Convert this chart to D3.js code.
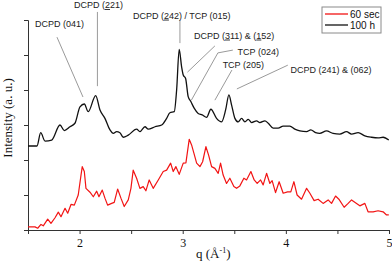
<!DOCTYPE html>
<html><head><meta charset="utf-8">
<script src="https://cdn.jsdelivr.net/npm/d3@7"></script>
<style>html,body{margin:0;padding:0;background:#fff;}svg{display:block;}</style>
</head><body><svg id="c" width="392" height="262"></svg>
<script>
// q values (Å^-1) and intensities (a.u.)
const blackQ = [1.500,1.587,1.623,1.665,1.730,1.810,1.852,1.907,1.955,2.004,2.046,2.084,2.156,2.198,2.246,2.295,2.327,2.359,2.391,2.423,2.472,2.553,2.585,2.634,2.666,2.731,2.796,2.844,2.876,2.918,2.941,2.966,2.989,3.005,3.028,3.053,3.079,3.111,3.150,3.189,3.232,3.273,3.328,3.377,3.416,3.448,3.474,3.506,3.538,3.571,3.603,3.635,3.668,3.716,3.748,3.797,3.829,3.877,3.925,3.974,4.039,4.087,4.136,4.201,4.242,4.288,4.329,4.394,4.458,4.523,4.588,4.637,4.701,4.766,4.830,4.894,4.943,4.998];
const blackI = [2.40,2.40,2.78,2.54,2.57,3.00,2.84,2.95,3.05,3.52,3.60,3.38,3.84,3.43,3.19,2.86,2.76,2.81,2.78,2.65,2.71,2.88,2.81,2.95,2.88,2.95,3.00,3.19,3.35,3.38,4.00,5.16,4.67,4.43,4.33,3.81,3.67,3.48,3.33,3.29,3.22,3.45,3.19,3.09,3.43,3.86,3.57,3.19,3.09,3.19,3.09,3.16,3.07,3.12,3.07,3.12,3.05,2.91,2.91,2.97,2.97,2.88,2.83,2.81,2.86,2.78,2.76,2.83,2.76,2.74,2.81,2.74,2.78,2.69,2.65,2.63,2.65,2.57];
const redQ = [1.500,1.568,1.594,1.626,1.648,1.691,1.723,1.762,1.794,1.820,1.859,1.885,1.917,1.949,1.987,2.014,2.026,2.046,2.062,2.101,2.133,2.166,2.188,2.220,2.246,2.272,2.311,2.336,2.369,2.401,2.433,2.472,2.498,2.520,2.553,2.585,2.617,2.643,2.675,2.714,2.763,2.811,2.844,2.883,2.908,2.934,2.966,3.005,3.031,3.063,3.086,3.109,3.135,3.167,3.193,3.225,3.251,3.280,3.312,3.344,3.367,3.392,3.425,3.457,3.496,3.522,3.554,3.593,3.619,3.661,3.693,3.722,3.755,3.780,3.813,3.845,3.867,3.900,3.935,3.974,4.016,4.048,4.078,4.109,4.152,4.201,4.233,4.274,4.313,4.361,4.410,4.443,4.482,4.514,4.565,4.604,4.637,4.675,4.717,4.766,4.797,4.846,4.894,4.943,4.976,4.998];
const redI = [0.09,0.09,0.05,0.16,0.12,0.31,0.19,0.35,0.51,0.38,0.62,0.48,0.73,0.71,1.00,1.57,1.81,1.67,1.19,1.08,0.95,1.11,0.95,1.14,0.91,0.71,0.76,0.79,1.17,0.91,0.67,0.86,1.19,1.71,1.48,1.19,1.24,1.12,1.43,1.19,1.43,1.67,1.71,1.91,1.67,1.81,1.59,1.91,1.92,2.59,2.43,2.19,1.91,1.81,1.95,2.38,2.14,1.81,1.76,1.62,1.91,1.57,1.33,1.48,1.24,1.19,1.26,1.48,1.43,1.67,1.43,1.33,1.43,1.29,1.62,1.33,1.41,1.07,1.38,1.05,1.09,1.09,1.38,1.00,0.88,1.19,1.05,0.84,0.88,0.76,0.86,0.76,0.97,0.88,0.65,0.76,0.86,0.78,0.69,0.76,0.52,0.52,0.55,0.52,0.43,0.43];
const xTicks = [1.5,2,2.5,3,3.5,4,4.5,5];
const xTickLabels = ["", "2", "", "3", "", "4", "", "5"];
const yTicks = [0,1,2,3,4,5,6];
const seriesNames = ["60 sec", "100 h"];
const seriesColors = ["#f21414", "#111111"];
// annotation labels: [text parts ({t, u: underlined}), label q, label I, leader points [[q,I],...]]
const annotations = [
  {parts:[{t:"DCPD (041)"}], q:1.568, i:5.89, lead:[[1.781,5.51],[2.033,3.80]]},
  {parts:[{t:"DCPD ("},{t:"2",u:1},{t:"21)"}], q:1.946, i:6.43, lead:[[2.173,6.23],[2.173,4.11]]},
  {parts:[{t:"DCPD ("},{t:"2",u:1},{t:"42) / TCP (015)"}], q:2.517, i:6.13, lead:[[2.973,6.00],[2.973,5.34]]},
  {parts:[{t:"DCPD ("},{t:"3",u:1},{t:"11) & ("},{t:"1",u:1},{t:"52)"}], q:3.109, i:5.56, lead:[[3.312,5.26],[3.046,4.51]]},
  {parts:[{t:"TCP (024)"}], q:3.532, i:5.10, lead:[[3.486,5.14],[3.341,5.06],[3.084,3.71]]},
  {parts:[{t:"TCP (205)"}], q:3.387, i:4.73, lead:[[3.477,4.57],[3.312,3.71]]},
  {parts:[{t:"DCPD (241) & (062)"}], q:4.046, i:4.59, lead:[[4.019,4.71],[3.525,4.03]]}
];

const svg = d3.select("#c");
const x = d3.scaleLinear().domain([1.5,5]).range([28,389]);
const y = d3.scaleLinear().domain([0,6]).range([230,20]);

// axes
const xAxis = d3.axisBottom(x).tickValues(xTicks).tickSize(4).tickFormat((d,i)=>xTickLabels[i]);
const gx = svg.append("g").attr("transform","translate(0,230)").call(xAxis);
gx.select(".domain").attr("stroke","#333");
gx.selectAll(".tick line").attr("stroke","#333");
gx.selectAll(".tick text").attr("font-family","'Liberation Serif','Times New Roman',serif").attr("font-size",12).attr("fill","#111").attr("dy","0.85em");
const yAxis = d3.axisLeft(y).tickValues(yTicks).tickSize(4).tickFormat("");
const gy = svg.append("g").attr("transform","translate(28,0)").call(yAxis);
gy.select(".domain").attr("stroke","#333");
gy.selectAll(".tick line").attr("stroke","#333");

// axis titles
svg.append("text").attr("transform","translate(12,118) rotate(-90)").attr("text-anchor","middle")
  .attr("font-family","'Liberation Serif','Times New Roman',serif").attr("font-size",13).attr("fill","#111")
  .text("Intensity (a. u.)");
const xt = svg.append("text").attr("x",196).attr("y",258)
  .attr("font-family","'Liberation Serif','Times New Roman',serif").attr("font-size",13).attr("fill","#111");
xt.append("tspan").text("q (Å");
xt.append("tspan").attr("font-size",8).attr("dy",-5).text("-1");
xt.append("tspan").attr("dy",5).text(")");

// curves
const black = blackQ.map((q,i)=>[q,blackI[i]]);
const red = redQ.map((q,i)=>[q,redI[i]]);
svg.append("path").datum(red).attr("fill","none").attr("stroke",seriesColors[0]).attr("stroke-width",1.2)
  .attr("stroke-linejoin","round")
  .attr("d", d3.line().x(d=>x(d[0])).y(d=>y(d[1])));
svg.append("path").datum(black).attr("fill","none").attr("stroke",seriesColors[1]).attr("stroke-width",1.3)
  .attr("d", d3.line().curve(d3.curveMonotoneX).x(d=>x(d[0])).y(d=>y(d[1])));

// annotations
annotations.forEach(a=>{
  svg.append("path").attr("fill","none").attr("stroke","#9a9a9a").attr("stroke-width",1)
    .attr("d", d3.line().x(d=>x(d[0])).y(d=>y(d[1]))(a.lead));
  const t = svg.append("text").attr("x",x(a.q)).attr("y",y(a.i)).attr("dy","0.35em")
    .attr("font-family","'Liberation Sans',Arial,sans-serif").attr("font-size",9).attr("fill","#222");
  a.parts.forEach(p=>{
    const s = t.append("tspan").text(p.t);
    if(p.u) s.style("text-decoration","underline");
  });
});

// legend
const lg = svg.append("g");
lg.append("rect").attr("x",322).attr("y",7).attr("width",59).attr("height",26)
  .attr("fill","#fff").attr("stroke","#8a8a8a").attr("stroke-width",1);
seriesNames.forEach((n,i)=>{
  const yy = 14 + i*11;
  lg.append("line").attr("x1",325).attr("x2",348).attr("y1",yy).attr("y2",yy)
    .attr("stroke",seriesColors[i]).attr("stroke-width",1.3);
  lg.append("text").attr("x",350).attr("y",yy).attr("dy","0.35em")
    .attr("font-family","'Liberation Sans',Arial,sans-serif").attr("font-size",10).attr("fill","#111").text(n);
});
</script></body></html>
